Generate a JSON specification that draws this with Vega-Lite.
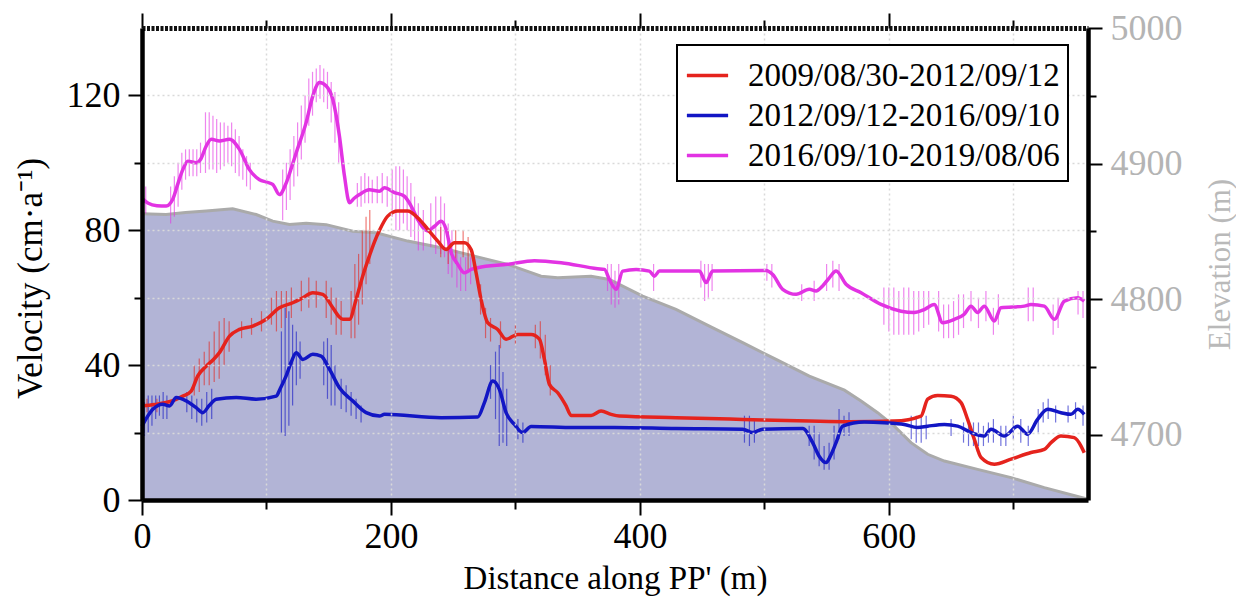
{
  "$schema": "https://vega.github.io/schema/vega-lite/v6.json",
  "width": 946,
  "height": 472,
  "autosize": "none",
  "padding": {"left": 142, "top": 28, "right": 148, "bottom": 98},
  "background": "white",
  "config": {
    "view": {"stroke": null},
    "font": "Liberation Serif",
    "axis": {"labelFont": "Liberation Serif", "titleFont": "Liberation Serif", "titleFontWeight": "normal", "labelColor": "black", "titleColor": "black", "tickColor": "black", "domainColor": "black"},
    "legend": {"title": null, "orient": "none", "legendX": 535, "legendY": 17, "symbolType": "stroke", "symbolSize": 1700, "symbolStrokeWidth": 3.5, "symbolOpacity": 1, "labelFont": "Liberation Serif", "labelFontSize": 33, "labelColor": "black", "labelOffset": 18, "labelLimit": 500, "strokeColor": "black", "strokeWidth": 2, "fillColor": "white", "padding": 8, "rowPadding": -9, "zindex": 2}
  },
  "datasets": {
    "elev": [
      {"d": 0, "e": 4863}, {"d": 19.4, "e": 4862.5}, {"d": 35, "e": 4864}, {"d": 51.6, "e": 4865}, {"d": 72.9, "e": 4866.7},
      {"d": 91.7, "e": 4862.5}, {"d": 105, "e": 4857.6}, {"d": 118.5, "e": 4855.2}, {"d": 131.9, "e": 4856}, {"d": 148, "e": 4855},
      {"d": 169.3, "e": 4850.2}, {"d": 188.1, "e": 4849}, {"d": 213.5, "e": 4842.9}, {"d": 240.3, "e": 4838}, {"d": 267, "e": 4831.8},
      {"d": 293.8, "e": 4825.7}, {"d": 312.6, "e": 4819.6}, {"d": 320.6, "e": 4817}, {"d": 334, "e": 4815.9}, {"d": 360.8, "e": 4817},
      {"d": 375.5, "e": 4814.6}, {"d": 402.2, "e": 4802.3}, {"d": 429, "e": 4792.5}, {"d": 455.8, "e": 4780.2}, {"d": 482.6, "e": 4768},
      {"d": 509.4, "e": 4755.7}, {"d": 536.1, "e": 4743.4}, {"d": 564.3, "e": 4733}, {"d": 577.7, "e": 4725}, {"d": 591, "e": 4716.4},
      {"d": 604.4, "e": 4706.5}, {"d": 617.8, "e": 4694.3}, {"d": 631.2, "e": 4685.7}, {"d": 644.6, "e": 4680.7}, {"d": 671.3, "e": 4674.6},
      {"d": 698.2, "e": 4668.5}, {"d": 724.9, "e": 4661.1}, {"d": 760, "e": 4652.5}
    ],
    "vel": [
      {"s": "2016/09/10-2019/08/06", "d": 0, "v": 89.5}, {"s": "2016/09/10-2019/08/06", "d": 5, "v": 88}, {"s": "2016/09/10-2019/08/06", "d": 12, "v": 87.3},
      {"s": "2016/09/10-2019/08/06", "d": 19.4, "v": 87.2}, {"s": "2016/09/10-2019/08/06", "d": 24.7, "v": 89.2}, {"s": "2016/09/10-2019/08/06", "d": 29, "v": 94},
      {"s": "2016/09/10-2019/08/06", "d": 32.8, "v": 98}, {"s": "2016/09/10-2019/08/06", "d": 36.8, "v": 100.5}, {"s": "2016/09/10-2019/08/06", "d": 43.5, "v": 100},
      {"s": "2016/09/10-2019/08/06", "d": 47, "v": 101}, {"s": "2016/09/10-2019/08/06", "d": 51.6, "v": 105}, {"s": "2016/09/10-2019/08/06", "d": 55.6, "v": 107},
      {"s": "2016/09/10-2019/08/06", "d": 62.2, "v": 106.5}, {"s": "2016/09/10-2019/08/06", "d": 70.3, "v": 107}, {"s": "2016/09/10-2019/08/06", "d": 78.3, "v": 104},
      {"s": "2016/09/10-2019/08/06", "d": 86.3, "v": 98}, {"s": "2016/09/10-2019/08/06", "d": 94.4, "v": 95}, {"s": "2016/09/10-2019/08/06", "d": 100, "v": 94.3},
      {"s": "2016/09/10-2019/08/06", "d": 105, "v": 93.6}, {"s": "2016/09/10-2019/08/06", "d": 110.4, "v": 90.6}, {"s": "2016/09/10-2019/08/06", "d": 115.8, "v": 94},
      {"s": "2016/09/10-2019/08/06", "d": 120, "v": 98.5}, {"s": "2016/09/10-2019/08/06", "d": 123.9, "v": 103}, {"s": "2016/09/10-2019/08/06", "d": 131.9, "v": 112},
      {"s": "2016/09/10-2019/08/06", "d": 137.2, "v": 119.8}, {"s": "2016/09/10-2019/08/06", "d": 142.6, "v": 123.8}, {"s": "2016/09/10-2019/08/06", "d": 148, "v": 122.8},
      {"s": "2016/09/10-2019/08/06", "d": 153.3, "v": 118.8}, {"s": "2016/09/10-2019/08/06", "d": 158.6, "v": 108}, {"s": "2016/09/10-2019/08/06", "d": 162.7, "v": 96},
      {"s": "2016/09/10-2019/08/06", "d": 166.7, "v": 88.2}, {"s": "2016/09/10-2019/08/06", "d": 170.5, "v": 89.5}, {"s": "2016/09/10-2019/08/06", "d": 174.7, "v": 90.6},
      {"s": "2016/09/10-2019/08/06", "d": 182.7, "v": 92}, {"s": "2016/09/10-2019/08/06", "d": 190.8, "v": 91.6}, {"s": "2016/09/10-2019/08/06", "d": 194.8, "v": 92.6},
      {"s": "2016/09/10-2019/08/06", "d": 202.8, "v": 91.2}, {"s": "2016/09/10-2019/08/06", "d": 210.8, "v": 90.1}, {"s": "2016/09/10-2019/08/06", "d": 216.2, "v": 87.2},
      {"s": "2016/09/10-2019/08/06", "d": 221.5, "v": 83.2}, {"s": "2016/09/10-2019/08/06", "d": 229.6, "v": 79.8}, {"s": "2016/09/10-2019/08/06", "d": 235, "v": 81.2},
      {"s": "2016/09/10-2019/08/06", "d": 240.3, "v": 82.7}, {"s": "2016/09/10-2019/08/06", "d": 244.3, "v": 80.3}, {"s": "2016/09/10-2019/08/06", "d": 248.4, "v": 73.4},
      {"s": "2016/09/10-2019/08/06", "d": 253.7, "v": 69.9}, {"s": "2016/09/10-2019/08/06", "d": 259, "v": 67.4}, {"s": "2016/09/10-2019/08/06", "d": 264.4, "v": 68.4},
      {"s": "2016/09/10-2019/08/06", "d": 269.7, "v": 68.9}, {"s": "2016/09/10-2019/08/06", "d": 293.8, "v": 69.9}, {"s": "2016/09/10-2019/08/06", "d": 315.3, "v": 71},
      {"s": "2016/09/10-2019/08/06", "d": 336.7, "v": 70.4}, {"s": "2016/09/10-2019/08/06", "d": 366, "v": 68.6}, {"s": "2016/09/10-2019/08/06", "d": 371.5, "v": 68.4},
      {"s": "2016/09/10-2019/08/06", "d": 375.5, "v": 65.4}, {"s": "2016/09/10-2019/08/06", "d": 380.9, "v": 62.5}, {"s": "2016/09/10-2019/08/06", "d": 386.2, "v": 67.9},
      {"s": "2016/09/10-2019/08/06", "d": 397, "v": 68.4}, {"s": "2016/09/10-2019/08/06", "d": 407.6, "v": 67.9}, {"s": "2016/09/10-2019/08/06", "d": 411.6, "v": 66.4},
      {"s": "2016/09/10-2019/08/06", "d": 415.7, "v": 67.9}, {"s": "2016/09/10-2019/08/06", "d": 447.8, "v": 67.9}, {"s": "2016/09/10-2019/08/06", "d": 453.2, "v": 64.5},
      {"s": "2016/09/10-2019/08/06", "d": 458.5, "v": 67.9}, {"s": "2016/09/10-2019/08/06", "d": 501.4, "v": 68.1}, {"s": "2016/09/10-2019/08/06", "d": 506.7, "v": 66.9},
      {"s": "2016/09/10-2019/08/06", "d": 514.7, "v": 62.5}, {"s": "2016/09/10-2019/08/06", "d": 525.5, "v": 61}, {"s": "2016/09/10-2019/08/06", "d": 536.1, "v": 62.5},
      {"s": "2016/09/10-2019/08/06", "d": 541.5, "v": 62}, {"s": "2016/09/10-2019/08/06", "d": 546.8, "v": 63.5}, {"s": "2016/09/10-2019/08/06", "d": 552.2, "v": 65.9},
      {"s": "2016/09/10-2019/08/06", "d": 557.6, "v": 67.9}, {"s": "2016/09/10-2019/08/06", "d": 565.6, "v": 64}, {"s": "2016/09/10-2019/08/06", "d": 577.7, "v": 61.5},
      {"s": "2016/09/10-2019/08/06", "d": 593.7, "v": 58}, {"s": "2016/09/10-2019/08/06", "d": 609.8, "v": 56}, {"s": "2016/09/10-2019/08/06", "d": 620.5, "v": 55.6},
      {"s": "2016/09/10-2019/08/06", "d": 628.5, "v": 56.5}, {"s": "2016/09/10-2019/08/06", "d": 636.5, "v": 58}, {"s": "2016/09/10-2019/08/06", "d": 643.2, "v": 52.6},
      {"s": "2016/09/10-2019/08/06", "d": 652.6, "v": 53.6}, {"s": "2016/09/10-2019/08/06", "d": 660.6, "v": 55.1}, {"s": "2016/09/10-2019/08/06", "d": 666, "v": 57.5},
      {"s": "2016/09/10-2019/08/06", "d": 671.3, "v": 55.6}, {"s": "2016/09/10-2019/08/06", "d": 676.7, "v": 57.5}, {"s": "2016/09/10-2019/08/06", "d": 684.7, "v": 53.1},
      {"s": "2016/09/10-2019/08/06", "d": 690.1, "v": 57}, {"s": "2016/09/10-2019/08/06", "d": 708.8, "v": 57.5}, {"s": "2016/09/10-2019/08/06", "d": 714.2, "v": 58},
      {"s": "2016/09/10-2019/08/06", "d": 724.9, "v": 57.5}, {"s": "2016/09/10-2019/08/06", "d": 733, "v": 53.6}, {"s": "2016/09/10-2019/08/06", "d": 741, "v": 59},
      {"s": "2016/09/10-2019/08/06", "d": 751.7, "v": 60}, {"s": "2016/09/10-2019/08/06", "d": 757, "v": 59},

      {"s": "2009/08/30-2012/09/12", "d": 0, "v": 27.9}, {"s": "2009/08/30-2012/09/12", "d": 10, "v": 28.3}, {"s": "2009/08/30-2012/09/12", "d": 19.4, "v": 28.9},
      {"s": "2009/08/30-2012/09/12", "d": 27, "v": 29.8}, {"s": "2009/08/30-2012/09/12", "d": 32.8, "v": 30.8}, {"s": "2009/08/30-2012/09/12", "d": 39.5, "v": 32.3},
      {"s": "2009/08/30-2012/09/12", "d": 44.8, "v": 36.8}, {"s": "2009/08/30-2012/09/12", "d": 51.6, "v": 39.7}, {"s": "2009/08/30-2012/09/12", "d": 57, "v": 41.5},
      {"s": "2009/08/30-2012/09/12", "d": 62.2, "v": 43.7}, {"s": "2009/08/30-2012/09/12", "d": 70.3, "v": 48.6}, {"s": "2009/08/30-2012/09/12", "d": 78.3, "v": 50.6},
      {"s": "2009/08/30-2012/09/12", "d": 89, "v": 51.6}, {"s": "2009/08/30-2012/09/12", "d": 99.8, "v": 53.6}, {"s": "2009/08/30-2012/09/12", "d": 110.4, "v": 57},
      {"s": "2009/08/30-2012/09/12", "d": 121.1, "v": 58.5}, {"s": "2009/08/30-2012/09/12", "d": 129.2, "v": 60}, {"s": "2009/08/30-2012/09/12", "d": 137.2, "v": 61.5},
      {"s": "2009/08/30-2012/09/12", "d": 145.2, "v": 61}, {"s": "2009/08/30-2012/09/12", "d": 153.3, "v": 57}, {"s": "2009/08/30-2012/09/12", "d": 158, "v": 54.5},
      {"s": "2009/08/30-2012/09/12", "d": 161.3, "v": 53.6}, {"s": "2009/08/30-2012/09/12", "d": 166.7, "v": 53.6}, {"s": "2009/08/30-2012/09/12", "d": 172, "v": 59.5},
      {"s": "2009/08/30-2012/09/12", "d": 177.3, "v": 66.4}, {"s": "2009/08/30-2012/09/12", "d": 182.7, "v": 72.4}, {"s": "2009/08/30-2012/09/12", "d": 186.7, "v": 76.5},
      {"s": "2009/08/30-2012/09/12", "d": 190.8, "v": 80}, {"s": "2009/08/30-2012/09/12", "d": 197.4, "v": 84.2}, {"s": "2009/08/30-2012/09/12", "d": 205.5, "v": 85.7},
      {"s": "2009/08/30-2012/09/12", "d": 213.5, "v": 85.7}, {"s": "2009/08/30-2012/09/12", "d": 221.5, "v": 83.7}, {"s": "2009/08/30-2012/09/12", "d": 229.6, "v": 80.3},
      {"s": "2009/08/30-2012/09/12", "d": 237.6, "v": 76.8}, {"s": "2009/08/30-2012/09/12", "d": 244.3, "v": 74.3}, {"s": "2009/08/30-2012/09/12", "d": 251, "v": 76.3},
      {"s": "2009/08/30-2012/09/12", "d": 259, "v": 76.3}, {"s": "2009/08/30-2012/09/12", "d": 264.4, "v": 74.3}, {"s": "2009/08/30-2012/09/12", "d": 268.4, "v": 67.4},
      {"s": "2009/08/30-2012/09/12", "d": 272.4, "v": 59.5}, {"s": "2009/08/30-2012/09/12", "d": 277.7, "v": 52.6}, {"s": "2009/08/30-2012/09/12", "d": 285.8, "v": 50.6},
      {"s": "2009/08/30-2012/09/12", "d": 292.5, "v": 47.7}, {"s": "2009/08/30-2012/09/12", "d": 301.8, "v": 49.1}, {"s": "2009/08/30-2012/09/12", "d": 312.6, "v": 49.1},
      {"s": "2009/08/30-2012/09/12", "d": 319.3, "v": 47.7}, {"s": "2009/08/30-2012/09/12", "d": 323.3, "v": 41.7}, {"s": "2009/08/30-2012/09/12", "d": 327.3, "v": 34.3},
      {"s": "2009/08/30-2012/09/12", "d": 334, "v": 31.8}, {"s": "2009/08/30-2012/09/12", "d": 340.7, "v": 27.9}, {"s": "2009/08/30-2012/09/12", "d": 344.7, "v": 25.1},
      {"s": "2009/08/30-2012/09/12", "d": 360.8, "v": 25.1}, {"s": "2009/08/30-2012/09/12", "d": 368.8, "v": 26.4}, {"s": "2009/08/30-2012/09/12", "d": 376.9, "v": 25.4},
      {"s": "2009/08/30-2012/09/12", "d": 383.5, "v": 24.9}, {"s": "2009/08/30-2012/09/12", "d": 429, "v": 24.4}, {"s": "2009/08/30-2012/09/12", "d": 482.6, "v": 23.9},
      {"s": "2009/08/30-2012/09/12", "d": 536.1, "v": 23.4}, {"s": "2009/08/30-2012/09/12", "d": 568.3, "v": 23.2}, {"s": "2009/08/30-2012/09/12", "d": 604.4, "v": 23.4},
      {"s": "2009/08/30-2012/09/12", "d": 625.9, "v": 24.9}, {"s": "2009/08/30-2012/09/12", "d": 631.2, "v": 29.9}, {"s": "2009/08/30-2012/09/12", "d": 639.2, "v": 31},
      {"s": "2009/08/30-2012/09/12", "d": 650, "v": 30.8}, {"s": "2009/08/30-2012/09/12", "d": 658, "v": 28.9}, {"s": "2009/08/30-2012/09/12", "d": 663.3, "v": 23.9},
      {"s": "2009/08/30-2012/09/12", "d": 668.7, "v": 18}, {"s": "2009/08/30-2012/09/12", "d": 674.1, "v": 12.6}, {"s": "2009/08/30-2012/09/12", "d": 684.7, "v": 10.6},
      {"s": "2009/08/30-2012/09/12", "d": 698.2, "v": 12.1}, {"s": "2009/08/30-2012/09/12", "d": 714.2, "v": 14.1}, {"s": "2009/08/30-2012/09/12", "d": 724.9, "v": 15},
      {"s": "2009/08/30-2012/09/12", "d": 730.3, "v": 17}, {"s": "2009/08/30-2012/09/12", "d": 738.3, "v": 19}, {"s": "2009/08/30-2012/09/12", "d": 749, "v": 18.5},
      {"s": "2009/08/30-2012/09/12", "d": 754.4, "v": 16}, {"s": "2009/08/30-2012/09/12", "d": 757, "v": 14},

      {"s": "2012/09/12-2016/09/10", "d": 0, "v": 21.9}, {"s": "2012/09/12-2016/09/10", "d": 4, "v": 24.5}, {"s": "2012/09/12-2016/09/10", "d": 8.7, "v": 26.9},
      {"s": "2012/09/12-2016/09/10", "d": 16.7, "v": 28.4}, {"s": "2012/09/12-2016/09/10", "d": 22.1, "v": 27.9}, {"s": "2012/09/12-2016/09/10", "d": 27.5, "v": 30.4},
      {"s": "2012/09/12-2016/09/10", "d": 35.5, "v": 29.4}, {"s": "2012/09/12-2016/09/10", "d": 43.5, "v": 27.4}, {"s": "2012/09/12-2016/09/10", "d": 48.8, "v": 25.9},
      {"s": "2012/09/12-2016/09/10", "d": 54, "v": 28}, {"s": "2012/09/12-2016/09/10", "d": 59.6, "v": 29.9}, {"s": "2012/09/12-2016/09/10", "d": 75.7, "v": 30.4},
      {"s": "2012/09/12-2016/09/10", "d": 91.7, "v": 29.9}, {"s": "2012/09/12-2016/09/10", "d": 107.8, "v": 30.8}, {"s": "2012/09/12-2016/09/10", "d": 111, "v": 33},
      {"s": "2012/09/12-2016/09/10", "d": 115.8, "v": 36.8}, {"s": "2012/09/12-2016/09/10", "d": 120, "v": 41}, {"s": "2012/09/12-2016/09/10", "d": 123.9, "v": 43.7},
      {"s": "2012/09/12-2016/09/10", "d": 129.2, "v": 41.7}, {"s": "2012/09/12-2016/09/10", "d": 137.2, "v": 43.2}, {"s": "2012/09/12-2016/09/10", "d": 143.9, "v": 42.7},
      {"s": "2012/09/12-2016/09/10", "d": 150.6, "v": 38.8}, {"s": "2012/09/12-2016/09/10", "d": 158.6, "v": 33.3}, {"s": "2012/09/12-2016/09/10", "d": 169.3, "v": 29.4},
      {"s": "2012/09/12-2016/09/10", "d": 180.1, "v": 25.9}, {"s": "2012/09/12-2016/09/10", "d": 190.8, "v": 24.9}, {"s": "2012/09/12-2016/09/10", "d": 194.8, "v": 25.4},
      {"s": "2012/09/12-2016/09/10", "d": 240.3, "v": 24.4}, {"s": "2012/09/12-2016/09/10", "d": 269.7, "v": 24.6}, {"s": "2012/09/12-2016/09/10", "d": 275.1, "v": 28.9},
      {"s": "2012/09/12-2016/09/10", "d": 281.8, "v": 35.3}, {"s": "2012/09/12-2016/09/10", "d": 287.1, "v": 32.8}, {"s": "2012/09/12-2016/09/10", "d": 292.5, "v": 25.9},
      {"s": "2012/09/12-2016/09/10", "d": 299.2, "v": 22.4}, {"s": "2012/09/12-2016/09/10", "d": 305.9, "v": 20}, {"s": "2012/09/12-2016/09/10", "d": 312.6, "v": 21.8},
      {"s": "2012/09/12-2016/09/10", "d": 347.4, "v": 21.5}, {"s": "2012/09/12-2016/09/10", "d": 379.5, "v": 21.5}, {"s": "2012/09/12-2016/09/10", "d": 429, "v": 21.2},
      {"s": "2012/09/12-2016/09/10", "d": 482.6, "v": 21}, {"s": "2012/09/12-2016/09/10", "d": 490.6, "v": 20}, {"s": "2012/09/12-2016/09/10", "d": 498.6, "v": 21},
      {"s": "2012/09/12-2016/09/10", "d": 530.8, "v": 21.2}, {"s": "2012/09/12-2016/09/10", "d": 538.8, "v": 17}, {"s": "2012/09/12-2016/09/10", "d": 544, "v": 13},
      {"s": "2012/09/12-2016/09/10", "d": 549.6, "v": 11.1}, {"s": "2012/09/12-2016/09/10", "d": 553, "v": 13}, {"s": "2012/09/12-2016/09/10", "d": 557.6, "v": 17},
      {"s": "2012/09/12-2016/09/10", "d": 562.9, "v": 21.9}, {"s": "2012/09/12-2016/09/10", "d": 580.3, "v": 23.1}, {"s": "2012/09/12-2016/09/10", "d": 596.4, "v": 22.9},
      {"s": "2012/09/12-2016/09/10", "d": 612.4, "v": 22.4}, {"s": "2012/09/12-2016/09/10", "d": 623.1, "v": 21.5}, {"s": "2012/09/12-2016/09/10", "d": 631.2, "v": 21.9},
      {"s": "2012/09/12-2016/09/10", "d": 644.6, "v": 22.4}, {"s": "2012/09/12-2016/09/10", "d": 655.3, "v": 21.9}, {"s": "2012/09/12-2016/09/10", "d": 666, "v": 20},
      {"s": "2012/09/12-2016/09/10", "d": 676.7, "v": 19}, {"s": "2012/09/12-2016/09/10", "d": 682.1, "v": 21}, {"s": "2012/09/12-2016/09/10", "d": 692.8, "v": 19},
      {"s": "2012/09/12-2016/09/10", "d": 703.5, "v": 21.9}, {"s": "2012/09/12-2016/09/10", "d": 711.5, "v": 19.5}, {"s": "2012/09/12-2016/09/10", "d": 719.5, "v": 23.9},
      {"s": "2012/09/12-2016/09/10", "d": 727.6, "v": 26.9}, {"s": "2012/09/12-2016/09/10", "d": 738.3, "v": 25.9}, {"s": "2012/09/12-2016/09/10", "d": 746.3, "v": 25.4},
      {"s": "2012/09/12-2016/09/10", "d": 751.7, "v": 26.9}, {"s": "2012/09/12-2016/09/10", "d": 757, "v": 25.4}
    ],
    "err": [
      {"s": "2016/09/10-2019/08/06", "d": 1, "lo": 84, "hi": 96}, {"s": "2016/09/10-2019/08/06", "d": 3, "lo": 85, "hi": 93},
      {"s": "2016/09/10-2019/08/06", "d": 23, "lo": 82, "hi": 93}, {"s": "2016/09/10-2019/08/06", "d": 26, "lo": 84, "hi": 96},
      {"s": "2016/09/10-2019/08/06", "d": 29, "lo": 87, "hi": 100}, {"s": "2016/09/10-2019/08/06", "d": 32, "lo": 92, "hi": 103},
      {"s": "2016/09/10-2019/08/06", "d": 35, "lo": 95, "hi": 104}, {"s": "2016/09/10-2019/08/06", "d": 38, "lo": 96, "hi": 104},
      {"s": "2016/09/10-2019/08/06", "d": 41, "lo": 96, "hi": 104}, {"s": "2016/09/10-2019/08/06", "d": 44, "lo": 96, "hi": 104},
      {"s": "2016/09/10-2019/08/06", "d": 47, "lo": 97, "hi": 106}, {"s": "2016/09/10-2019/08/06", "d": 51, "lo": 97, "hi": 115},
      {"s": "2016/09/10-2019/08/06", "d": 54, "lo": 98, "hi": 115}, {"s": "2016/09/10-2019/08/06", "d": 57, "lo": 98, "hi": 114},
      {"s": "2016/09/10-2019/08/06", "d": 60, "lo": 97, "hi": 113}, {"s": "2016/09/10-2019/08/06", "d": 63, "lo": 98, "hi": 112},
      {"s": "2016/09/10-2019/08/06", "d": 66, "lo": 99, "hi": 112}, {"s": "2016/09/10-2019/08/06", "d": 69, "lo": 100, "hi": 111},
      {"s": "2016/09/10-2019/08/06", "d": 72, "lo": 99, "hi": 112}, {"s": "2016/09/10-2019/08/06", "d": 75, "lo": 97, "hi": 110},
      {"s": "2016/09/10-2019/08/06", "d": 78, "lo": 96, "hi": 108}, {"s": "2016/09/10-2019/08/06", "d": 81, "lo": 95, "hi": 104},
      {"s": "2016/09/10-2019/08/06", "d": 84, "lo": 93, "hi": 102}, {"s": "2016/09/10-2019/08/06", "d": 87, "lo": 92, "hi": 100},
      {"s": "2016/09/10-2019/08/06", "d": 113, "lo": 83, "hi": 98}, {"s": "2016/09/10-2019/08/06", "d": 116, "lo": 86, "hi": 100},
      {"s": "2016/09/10-2019/08/06", "d": 119, "lo": 89, "hi": 104}, {"s": "2016/09/10-2019/08/06", "d": 122, "lo": 93, "hi": 108},
      {"s": "2016/09/10-2019/08/06", "d": 125, "lo": 96, "hi": 112}, {"s": "2016/09/10-2019/08/06", "d": 128, "lo": 101, "hi": 117},
      {"s": "2016/09/10-2019/08/06", "d": 131, "lo": 106, "hi": 120}, {"s": "2016/09/10-2019/08/06", "d": 134, "lo": 111, "hi": 125},
      {"s": "2016/09/10-2019/08/06", "d": 137, "lo": 114, "hi": 127}, {"s": "2016/09/10-2019/08/06", "d": 140, "lo": 118, "hi": 128},
      {"s": "2016/09/10-2019/08/06", "d": 143, "lo": 119, "hi": 129}, {"s": "2016/09/10-2019/08/06", "d": 146, "lo": 118, "hi": 128},
      {"s": "2016/09/10-2019/08/06", "d": 149, "lo": 116, "hi": 127}, {"s": "2016/09/10-2019/08/06", "d": 152, "lo": 112, "hi": 124},
      {"s": "2016/09/10-2019/08/06", "d": 155, "lo": 106, "hi": 121}, {"s": "2016/09/10-2019/08/06", "d": 158, "lo": 100, "hi": 118},
      {"s": "2016/09/10-2019/08/06", "d": 173, "lo": 87, "hi": 94}, {"s": "2016/09/10-2019/08/06", "d": 176, "lo": 87, "hi": 96},
      {"s": "2016/09/10-2019/08/06", "d": 179, "lo": 88, "hi": 97}, {"s": "2016/09/10-2019/08/06", "d": 182, "lo": 88, "hi": 96},
      {"s": "2016/09/10-2019/08/06", "d": 185, "lo": 88, "hi": 95}, {"s": "2016/09/10-2019/08/06", "d": 189, "lo": 88, "hi": 96},
      {"s": "2016/09/10-2019/08/06", "d": 193, "lo": 88, "hi": 97}, {"s": "2016/09/10-2019/08/06", "d": 197, "lo": 87, "hi": 96},
      {"s": "2016/09/10-2019/08/06", "d": 201, "lo": 84, "hi": 98}, {"s": "2016/09/10-2019/08/06", "d": 204, "lo": 80, "hi": 99},
      {"s": "2016/09/10-2019/08/06", "d": 207, "lo": 80, "hi": 99}, {"s": "2016/09/10-2019/08/06", "d": 210, "lo": 82, "hi": 98},
      {"s": "2016/09/10-2019/08/06", "d": 213, "lo": 80, "hi": 96}, {"s": "2016/09/10-2019/08/06", "d": 216, "lo": 78, "hi": 94},
      {"s": "2016/09/10-2019/08/06", "d": 219, "lo": 77, "hi": 90}, {"s": "2016/09/10-2019/08/06", "d": 222, "lo": 74, "hi": 88},
      {"s": "2016/09/10-2019/08/06", "d": 226, "lo": 74, "hi": 86}, {"s": "2016/09/10-2019/08/06", "d": 232, "lo": 75, "hi": 88},
      {"s": "2016/09/10-2019/08/06", "d": 236, "lo": 73, "hi": 90}, {"s": "2016/09/10-2019/08/06", "d": 240, "lo": 73, "hi": 90},
      {"s": "2016/09/10-2019/08/06", "d": 243, "lo": 72, "hi": 88}, {"s": "2016/09/10-2019/08/06", "d": 246, "lo": 67, "hi": 82},
      {"s": "2016/09/10-2019/08/06", "d": 249, "lo": 66, "hi": 80}, {"s": "2016/09/10-2019/08/06", "d": 253, "lo": 63, "hi": 74},
      {"s": "2016/09/10-2019/08/06", "d": 256, "lo": 62, "hi": 72}, {"s": "2016/09/10-2019/08/06", "d": 260, "lo": 62, "hi": 72},
      {"s": "2016/09/10-2019/08/06", "d": 264, "lo": 64, "hi": 72}, {"s": "2016/09/10-2019/08/06", "d": 374, "lo": 62, "hi": 70},
      {"s": "2016/09/10-2019/08/06", "d": 377, "lo": 58, "hi": 70}, {"s": "2016/09/10-2019/08/06", "d": 380, "lo": 57, "hi": 68},
      {"s": "2016/09/10-2019/08/06", "d": 383, "lo": 58, "hi": 70}, {"s": "2016/09/10-2019/08/06", "d": 411, "lo": 62, "hi": 70},
      {"s": "2016/09/10-2019/08/06", "d": 449, "lo": 63, "hi": 71}, {"s": "2016/09/10-2019/08/06", "d": 452, "lo": 59, "hi": 70},
      {"s": "2016/09/10-2019/08/06", "d": 455, "lo": 60, "hi": 70}, {"s": "2016/09/10-2019/08/06", "d": 458, "lo": 62, "hi": 70},
      {"s": "2016/09/10-2019/08/06", "d": 502, "lo": 65, "hi": 70}, {"s": "2016/09/10-2019/08/06", "d": 506, "lo": 63, "hi": 70},
      {"s": "2016/09/10-2019/08/06", "d": 530, "lo": 59, "hi": 64}, {"s": "2016/09/10-2019/08/06", "d": 540, "lo": 59, "hi": 65},
      {"s": "2016/09/10-2019/08/06", "d": 550, "lo": 62, "hi": 70}, {"s": "2016/09/10-2019/08/06", "d": 555, "lo": 63, "hi": 71},
      {"s": "2016/09/10-2019/08/06", "d": 560, "lo": 62, "hi": 70}, {"s": "2016/09/10-2019/08/06", "d": 596, "lo": 52, "hi": 63},
      {"s": "2016/09/10-2019/08/06", "d": 600, "lo": 50, "hi": 63}, {"s": "2016/09/10-2019/08/06", "d": 604, "lo": 49, "hi": 63},
      {"s": "2016/09/10-2019/08/06", "d": 608, "lo": 49, "hi": 62}, {"s": "2016/09/10-2019/08/06", "d": 612, "lo": 49, "hi": 63},
      {"s": "2016/09/10-2019/08/06", "d": 616, "lo": 49, "hi": 63}, {"s": "2016/09/10-2019/08/06", "d": 620, "lo": 49, "hi": 62},
      {"s": "2016/09/10-2019/08/06", "d": 624, "lo": 50, "hi": 62}, {"s": "2016/09/10-2019/08/06", "d": 628, "lo": 51, "hi": 62},
      {"s": "2016/09/10-2019/08/06", "d": 632, "lo": 52, "hi": 62}, {"s": "2016/09/10-2019/08/06", "d": 640, "lo": 50, "hi": 62},
      {"s": "2016/09/10-2019/08/06", "d": 644, "lo": 48, "hi": 58}, {"s": "2016/09/10-2019/08/06", "d": 648, "lo": 48, "hi": 58},
      {"s": "2016/09/10-2019/08/06", "d": 652, "lo": 48, "hi": 59}, {"s": "2016/09/10-2019/08/06", "d": 656, "lo": 49, "hi": 61},
      {"s": "2016/09/10-2019/08/06", "d": 660, "lo": 51, "hi": 61}, {"s": "2016/09/10-2019/08/06", "d": 666, "lo": 53, "hi": 62},
      {"s": "2016/09/10-2019/08/06", "d": 672, "lo": 51, "hi": 60}, {"s": "2016/09/10-2019/08/06", "d": 678, "lo": 53, "hi": 62},
      {"s": "2016/09/10-2019/08/06", "d": 684, "lo": 49, "hi": 57}, {"s": "2016/09/10-2019/08/06", "d": 688, "lo": 52, "hi": 61},
      {"s": "2016/09/10-2019/08/06", "d": 712, "lo": 53, "hi": 63}, {"s": "2016/09/10-2019/08/06", "d": 716, "lo": 53, "hi": 63},
      {"s": "2016/09/10-2019/08/06", "d": 732, "lo": 49, "hi": 58}, {"s": "2016/09/10-2019/08/06", "d": 736, "lo": 51, "hi": 60},
      {"s": "2016/09/10-2019/08/06", "d": 752, "lo": 55, "hi": 62}, {"s": "2016/09/10-2019/08/06", "d": 756, "lo": 54, "hi": 62},

      {"s": "2009/08/30-2012/09/12", "d": 4, "lo": 26, "hi": 30}, {"s": "2009/08/30-2012/09/12", "d": 12, "lo": 26, "hi": 30},
      {"s": "2009/08/30-2012/09/12", "d": 42, "lo": 31, "hi": 40}, {"s": "2009/08/30-2012/09/12", "d": 46, "lo": 32, "hi": 42},
      {"s": "2009/08/30-2012/09/12", "d": 50, "lo": 34, "hi": 44}, {"s": "2009/08/30-2012/09/12", "d": 54, "lo": 34, "hi": 47},
      {"s": "2009/08/30-2012/09/12", "d": 58, "lo": 35, "hi": 50}, {"s": "2009/08/30-2012/09/12", "d": 62, "lo": 36, "hi": 53},
      {"s": "2009/08/30-2012/09/12", "d": 66, "lo": 40, "hi": 54}, {"s": "2009/08/30-2012/09/12", "d": 70, "lo": 44, "hi": 53},
      {"s": "2009/08/30-2012/09/12", "d": 80, "lo": 48, "hi": 53}, {"s": "2009/08/30-2012/09/12", "d": 88, "lo": 49, "hi": 54},
      {"s": "2009/08/30-2012/09/12", "d": 96, "lo": 50, "hi": 56}, {"s": "2009/08/30-2012/09/12", "d": 104, "lo": 52, "hi": 60},
      {"s": "2009/08/30-2012/09/12", "d": 108, "lo": 50, "hi": 62}, {"s": "2009/08/30-2012/09/12", "d": 112, "lo": 51, "hi": 62},
      {"s": "2009/08/30-2012/09/12", "d": 116, "lo": 54, "hi": 62}, {"s": "2009/08/30-2012/09/12", "d": 120, "lo": 54, "hi": 63},
      {"s": "2009/08/30-2012/09/12", "d": 128, "lo": 56, "hi": 65}, {"s": "2009/08/30-2012/09/12", "d": 134, "lo": 57, "hi": 66},
      {"s": "2009/08/30-2012/09/12", "d": 140, "lo": 57, "hi": 65}, {"s": "2009/08/30-2012/09/12", "d": 148, "lo": 54, "hi": 65},
      {"s": "2009/08/30-2012/09/12", "d": 152, "lo": 52, "hi": 63}, {"s": "2009/08/30-2012/09/12", "d": 156, "lo": 49, "hi": 60},
      {"s": "2009/08/30-2012/09/12", "d": 160, "lo": 49, "hi": 59}, {"s": "2009/08/30-2012/09/12", "d": 168, "lo": 48, "hi": 62},
      {"s": "2009/08/30-2012/09/12", "d": 171, "lo": 48, "hi": 70}, {"s": "2009/08/30-2012/09/12", "d": 174, "lo": 52, "hi": 73},
      {"s": "2009/08/30-2012/09/12", "d": 177, "lo": 58, "hi": 80}, {"s": "2009/08/30-2012/09/12", "d": 180, "lo": 64, "hi": 84},
      {"s": "2009/08/30-2012/09/12", "d": 183, "lo": 70, "hi": 86}, {"s": "2009/08/30-2012/09/12", "d": 240, "lo": 72, "hi": 81},
      {"s": "2009/08/30-2012/09/12", "d": 246, "lo": 70, "hi": 80}, {"s": "2009/08/30-2012/09/12", "d": 252, "lo": 70, "hi": 80},
      {"s": "2009/08/30-2012/09/12", "d": 258, "lo": 72, "hi": 80}, {"s": "2009/08/30-2012/09/12", "d": 262, "lo": 68, "hi": 78},
      {"s": "2009/08/30-2012/09/12", "d": 272, "lo": 55, "hi": 64}, {"s": "2009/08/30-2012/09/12", "d": 276, "lo": 48, "hi": 57},
      {"s": "2009/08/30-2012/09/12", "d": 280, "lo": 47, "hi": 54}, {"s": "2009/08/30-2012/09/12", "d": 288, "lo": 45, "hi": 53},
      {"s": "2009/08/30-2012/09/12", "d": 300, "lo": 46, "hi": 52}, {"s": "2009/08/30-2012/09/12", "d": 316, "lo": 45, "hi": 52},
      {"s": "2009/08/30-2012/09/12", "d": 320, "lo": 42, "hi": 53}, {"s": "2009/08/30-2012/09/12", "d": 324, "lo": 37, "hi": 49},
      {"s": "2009/08/30-2012/09/12", "d": 328, "lo": 31, "hi": 40},

      {"s": "2012/09/12-2016/09/10", "d": 2, "lo": 19, "hi": 29}, {"s": "2012/09/12-2016/09/10", "d": 5, "lo": 20, "hi": 31},
      {"s": "2012/09/12-2016/09/10", "d": 8, "lo": 22, "hi": 31}, {"s": "2012/09/12-2016/09/10", "d": 11, "lo": 24, "hi": 31},
      {"s": "2012/09/12-2016/09/10", "d": 14, "lo": 25, "hi": 31}, {"s": "2012/09/12-2016/09/10", "d": 17, "lo": 24, "hi": 32},
      {"s": "2012/09/12-2016/09/10", "d": 20, "lo": 24, "hi": 31}, {"s": "2012/09/12-2016/09/10", "d": 36, "lo": 26, "hi": 32},
      {"s": "2012/09/12-2016/09/10", "d": 40, "lo": 24, "hi": 31}, {"s": "2012/09/12-2016/09/10", "d": 44, "lo": 23, "hi": 30},
      {"s": "2012/09/12-2016/09/10", "d": 48, "lo": 22, "hi": 30}, {"s": "2012/09/12-2016/09/10", "d": 52, "lo": 23, "hi": 32},
      {"s": "2012/09/12-2016/09/10", "d": 56, "lo": 24, "hi": 33}, {"s": "2012/09/12-2016/09/10", "d": 112, "lo": 20, "hi": 50},
      {"s": "2012/09/12-2016/09/10", "d": 115, "lo": 19, "hi": 57}, {"s": "2012/09/12-2016/09/10", "d": 118, "lo": 22, "hi": 56},
      {"s": "2012/09/12-2016/09/10", "d": 121, "lo": 28, "hi": 52}, {"s": "2012/09/12-2016/09/10", "d": 124, "lo": 34, "hi": 50},
      {"s": "2012/09/12-2016/09/10", "d": 127, "lo": 36, "hi": 47}, {"s": "2012/09/12-2016/09/10", "d": 146, "lo": 34, "hi": 47},
      {"s": "2012/09/12-2016/09/10", "d": 149, "lo": 30, "hi": 48}, {"s": "2012/09/12-2016/09/10", "d": 152, "lo": 28, "hi": 46},
      {"s": "2012/09/12-2016/09/10", "d": 155, "lo": 28, "hi": 40}, {"s": "2012/09/12-2016/09/10", "d": 160, "lo": 27, "hi": 36},
      {"s": "2012/09/12-2016/09/10", "d": 164, "lo": 26, "hi": 34}, {"s": "2012/09/12-2016/09/10", "d": 168, "lo": 25, "hi": 32},
      {"s": "2012/09/12-2016/09/10", "d": 172, "lo": 24, "hi": 30}, {"s": "2012/09/12-2016/09/10", "d": 176, "lo": 23, "hi": 28},
      {"s": "2012/09/12-2016/09/10", "d": 280, "lo": 30, "hi": 40}, {"s": "2012/09/12-2016/09/10", "d": 284, "lo": 24, "hi": 44},
      {"s": "2012/09/12-2016/09/10", "d": 287, "lo": 16, "hi": 46}, {"s": "2012/09/12-2016/09/10", "d": 290, "lo": 17, "hi": 38},
      {"s": "2012/09/12-2016/09/10", "d": 293, "lo": 16, "hi": 33}, {"s": "2012/09/12-2016/09/10", "d": 302, "lo": 18, "hi": 24},
      {"s": "2012/09/12-2016/09/10", "d": 306, "lo": 17, "hi": 23}, {"s": "2012/09/12-2016/09/10", "d": 484, "lo": 17, "hi": 25},
      {"s": "2012/09/12-2016/09/10", "d": 488, "lo": 16, "hi": 25}, {"s": "2012/09/12-2016/09/10", "d": 492, "lo": 17, "hi": 24},
      {"s": "2012/09/12-2016/09/10", "d": 536, "lo": 16, "hi": 22}, {"s": "2012/09/12-2016/09/10", "d": 540, "lo": 12, "hi": 22},
      {"s": "2012/09/12-2016/09/10", "d": 544, "lo": 10, "hi": 20}, {"s": "2012/09/12-2016/09/10", "d": 548, "lo": 9, "hi": 16},
      {"s": "2012/09/12-2016/09/10", "d": 552, "lo": 9, "hi": 17}, {"s": "2012/09/12-2016/09/10", "d": 556, "lo": 12, "hi": 22},
      {"s": "2012/09/12-2016/09/10", "d": 560, "lo": 18, "hi": 27}, {"s": "2012/09/12-2016/09/10", "d": 564, "lo": 19, "hi": 25},
      {"s": "2012/09/12-2016/09/10", "d": 568, "lo": 19, "hi": 26}, {"s": "2012/09/12-2016/09/10", "d": 618, "lo": 18, "hi": 25},
      {"s": "2012/09/12-2016/09/10", "d": 622, "lo": 17, "hi": 25}, {"s": "2012/09/12-2016/09/10", "d": 626, "lo": 17, "hi": 25},
      {"s": "2012/09/12-2016/09/10", "d": 630, "lo": 18, "hi": 25}, {"s": "2012/09/12-2016/09/10", "d": 650, "lo": 19, "hi": 24},
      {"s": "2012/09/12-2016/09/10", "d": 660, "lo": 17, "hi": 23}, {"s": "2012/09/12-2016/09/10", "d": 664, "lo": 16, "hi": 23},
      {"s": "2012/09/12-2016/09/10", "d": 668, "lo": 16, "hi": 23}, {"s": "2012/09/12-2016/09/10", "d": 672, "lo": 16, "hi": 23},
      {"s": "2012/09/12-2016/09/10", "d": 676, "lo": 16, "hi": 22}, {"s": "2012/09/12-2016/09/10", "d": 680, "lo": 17, "hi": 23},
      {"s": "2012/09/12-2016/09/10", "d": 684, "lo": 17, "hi": 24}, {"s": "2012/09/12-2016/09/10", "d": 690, "lo": 16, "hi": 22},
      {"s": "2012/09/12-2016/09/10", "d": 694, "lo": 16, "hi": 22}, {"s": "2012/09/12-2016/09/10", "d": 700, "lo": 18, "hi": 25},
      {"s": "2012/09/12-2016/09/10", "d": 706, "lo": 17, "hi": 24}, {"s": "2012/09/12-2016/09/10", "d": 712, "lo": 16, "hi": 22},
      {"s": "2012/09/12-2016/09/10", "d": 720, "lo": 20, "hi": 27}, {"s": "2012/09/12-2016/09/10", "d": 724, "lo": 23, "hi": 29},
      {"s": "2012/09/12-2016/09/10", "d": 728, "lo": 24, "hi": 30}, {"s": "2012/09/12-2016/09/10", "d": 734, "lo": 23, "hi": 28},
      {"s": "2012/09/12-2016/09/10", "d": 744, "lo": 23, "hi": 28}, {"s": "2012/09/12-2016/09/10", "d": 750, "lo": 24, "hi": 29},
      {"s": "2012/09/12-2016/09/10", "d": 756, "lo": 22, "hi": 28}
    ]
  },
  "layer": [
    {
      "data": {"name": "elev"},
      "mark": {"type": "area", "color": "#b2b4d6", "opacity": 1, "line": {"color": "#aaaaaa", "strokeWidth": 3}},
      "encoding": {
        "x": {
          "field": "d", "type": "quantitative",
          "scale": {"domain": [0, 760], "nice": false, "zero": false},
          "axis": {
            "orient": "bottom", "values": [0, 100, 200, 300, 400, 500, 600, 700],
            "labelExpr": "datum.value % 200 === 0 ? datum.label : ''",
            "title": "Distance along PP' (m)", "titleFontSize": 33, "titlePadding": 8,
            "labelFontSize": 36, "labelPadding": 4, "labelFlush": false,
            "tickSize": {"condition": {"test": "datum.value % 200 === 0", "value": 15}, "value": 9},
            "tickWidth": 2, "domainWidth": 4.5,
            "grid": true, "gridColor": "#d9d9d9", "gridDash": [2, 3], "gridWidth": 1.5, "zindex": 1
          }
        },
        "y": {
          "field": "e", "type": "quantitative",
          "scale": {"domain": [4652, 5000], "nice": false, "zero": false},
          "axis": {
            "orient": "right", "values": [4700, 4750, 4800, 4850, 4900, 4950, 5000],
            "labelExpr": "datum.value % 100 === 0 ? datum.label : ''",
            "format": "d",
            "title": "Elevation (m)", "titleFontSize": 31, "titleColor": "#b9b9b9", "titleAngle": 270, "titlePadding": 54,
            "labelFontSize": 36, "labelColor": "#b4b4b4", "labelPadding": 8,
            "tickSize": {"condition": {"test": "datum.value % 100 === 0", "value": 14}, "value": 8},
            "tickWidth": 2, "domainWidth": 4.5, "grid": false, "zindex": 1
          }
        },
        "y2": {"datum": 4652}
      }
    },
    {
      "data": {"name": "err"},
      "mark": {"type": "rule", "strokeWidth": 1.2, "opacity": 0.6},
      "encoding": {
        "x": {
          "field": "d", "type": "quantitative",
          "scale": {"domain": [0, 760], "nice": false, "zero": false},
          "axis": {
            "orient": "top", "values": [0, 100, 200, 300, 400, 500, 600, 700],
            "labels": false, "title": null, "grid": false,
            "tickSize": {"condition": {"test": "datum.value % 200 === 0", "value": 15}, "value": 8},
            "tickWidth": 2, "domainWidth": 5, "domainColor": "#111111", "domainDash": [3, 1.5], "zindex": 1
          }
        },
        "y": {"field": "lo", "type": "quantitative", "scale": {"domain": [0, 140], "nice": false}, "axis": null},
        "y2": {"field": "hi"},
        "color": {"field": "s", "type": "nominal"}
      }
    },
    {
      "data": {"name": "vel"},
      "mark": {"type": "line", "strokeWidth": 3.5, "interpolate": "monotone"},
      "encoding": {
        "x": {"field": "d", "type": "quantitative", "scale": {"domain": [0, 760], "nice": false, "zero": false}, "axis": null},
        "y": {
          "field": "v", "type": "quantitative",
          "scale": {"domain": [0, 140], "nice": false},
          "axis": {
            "orient": "left", "values": [0, 20, 40, 60, 80, 100, 120],
            "labelExpr": "datum.value % 40 === 0 ? datum.label : ''",
            "title": "Velocity (cm·a⁻¹)", "titleFontSize": 35, "titlePadding": 18, "titleY": 250,
            "labelFontSize": 36, "labelPadding": 8,
            "tickSize": {"condition": {"test": "datum.value % 40 === 0", "value": 14}, "value": 8},
            "tickWidth": 2, "domainWidth": 4.5,
            "grid": true, "gridColor": "#d9d9d9", "gridDash": [2, 3], "gridWidth": 1.5, "zindex": 1
          }
        },
        "color": {
          "field": "s", "type": "nominal",
          "scale": {"domain": ["2009/08/30-2012/09/12", "2012/09/12-2016/09/10", "2016/09/10-2019/08/06"], "range": ["#e5231d", "#1216c4", "#e233e3"]}
        }
      }
    }
  ],
  "resolve": {"scale": {"y": "independent"}, "axis": {"x": "independent", "y": "independent"}}
}
